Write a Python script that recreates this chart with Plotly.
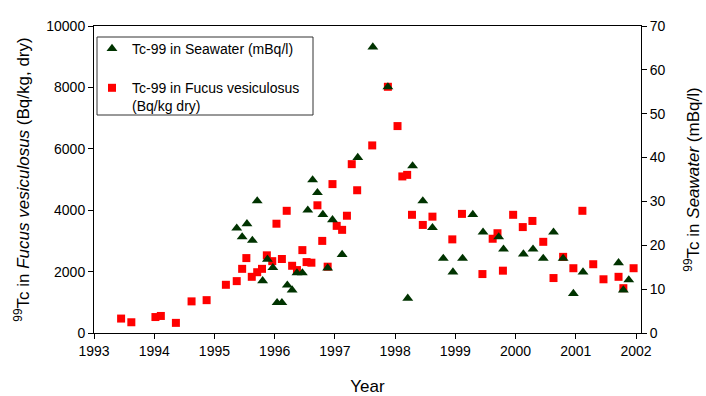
import plotly.graph_objects as go

# Tc-99 in Fucus vesiculosus (Bq/kg dry) - left axis
fucus_year = [1993.45, 1993.62, 1994.02, 1994.11, 1994.36, 1994.62, 1994.87, 1995.19,
              1995.37, 1995.46, 1995.53, 1995.62, 1995.71, 1995.79, 1995.87, 1995.96,
              1996.03, 1996.12, 1996.20, 1996.29, 1996.37, 1996.46, 1996.53, 1996.61,
              1996.71, 1996.79, 1996.88, 1996.96, 1997.03, 1997.12, 1997.20, 1997.28,
              1997.37, 1997.62, 1997.88, 1998.04, 1998.12, 1998.20, 1998.28, 1998.46,
              1998.62, 1998.95, 1999.11, 1999.45, 1999.62, 1999.70, 1999.79, 1999.96,
              2000.12, 2000.28, 2000.46, 2000.63, 2000.79, 2000.96, 2001.11, 2001.29,
              2001.46, 2001.71, 2001.79, 2001.96]
fucus_value = [470, 350, 520, 555, 330, 1030, 1070, 1570,
               1690, 2090, 2440, 1830, 1980, 2090, 2530, 2340,
               3560, 2410, 3980, 2190, 2050, 2700, 2310, 2290,
               4160, 3000, 2160, 4850, 3490, 3360, 3820, 5500,
               4650, 6110, 8020, 6740, 5100, 5150, 3850, 3520,
               3790, 3050, 3880, 1920, 3070, 3250, 2030, 3850,
               3450, 3650, 2970, 1790, 2480, 2110, 3980, 2240,
               1750, 1830, 1460, 2110]

# Tc-99 in Seawater (mBq/l) - right axis
sea_year = [1995.37, 1995.46, 1995.54, 1995.63, 1995.71, 1995.80, 1995.88, 1995.97,
            1996.04, 1996.12, 1996.21, 1996.29, 1996.37, 1996.46, 1996.55, 1996.63,
            1996.71, 1996.80, 1996.88, 1996.96, 1997.12, 1997.38, 1997.63, 1997.88,
            1998.21, 1998.29, 1998.46, 1998.62, 1998.80, 1998.96, 1999.12, 1999.29,
            1999.46, 1999.72, 1999.80, 2000.13, 2000.29, 2000.46, 2000.63, 2000.79,
            2000.96, 2001.12, 2001.71, 2001.79, 2001.88]
sea_value = [23.9, 21.9, 24.9, 21.1, 30.1, 11.9, 16.8, 14.9,
             6.9, 6.9, 10.9, 9.8, 13.7, 13.7, 28.0, 34.9,
             32.0, 27.0, 14.8, 25.8, 17.9, 40.0, 65.2, 56.1,
             7.9, 38.1, 30.1, 24.0, 17.0, 13.9, 17.0, 27.0,
             23.0, 21.9, 19.1, 18.0, 19.1, 17.0, 23.0, 17.0,
             9.0, 13.9, 16.0, 9.8, 12.1]

year_ticks = list(range(1993, 2003))
left_ticks = [0, 2000, 4000, 6000, 8000, 10000]
left_ticktext = ["0", "2000", "4000", "6000", "8000", "10000"]
right_ticks = [0, 10, 20, 30, 40, 50, 60, 70]

FONT = "Liberation Sans, Arial, sans-serif"

fig = go.Figure()
fig.add_trace(go.Scatter(
    x=sea_year, y=sea_value, mode="markers", yaxis="y2",
    name="Tc-99 in Seawater (mBq/l)", legendgroup="sea",
    marker=dict(symbol="triangle-up", size=9.5, color="#003300", line=dict(width=0)),
))
fig.add_trace(go.Scatter(
    x=fucus_year, y=fucus_value, mode="markers", yaxis="y",
    name="Tc-99 in Fucus vesiculosus<br>(Bq/kg dry)", legendgroup="fucus",
    marker=dict(symbol="square", size=8, color="#FF0000", line=dict(width=0)),
))

# plot-area geometry (px) used to place the legend frame
L, R, T, B = 94, 65, 26, 63
PW, PH = 706 - L - R, 396 - T - B


def px_x(px):
    return (px - L) / PW


def px_y(py):
    return (396 - B - py) / PH


xr = [1993, 2002.083]
common = dict(showgrid=False, zeroline=False, showline=True, linecolor="black",
              linewidth=1, tickcolor="black", ticklen=5, tickwidth=1, automargin=False)
inner = dict(showticklabels=False, showgrid=False, zeroline=False, showline=False,
             tickcolor="black", ticklen=5, ticks="inside", automargin=False)

fig.update_layout(
    width=706, height=396,
    margin=dict(l=L, r=R, t=T, b=B),
    paper_bgcolor="white", plot_bgcolor="white",
    font=dict(family=FONT, size=14, color="black"),
    showlegend=True,
    legend=dict(x=px_x(92), y=px_y(33), xanchor="left", yanchor="top",
                borderwidth=0, bgcolor="rgba(0,0,0,0)",
                font=dict(size=14), itemwidth=30, tracegroupgap=18,
                traceorder="grouped", valign="top"),
    shapes=[dict(type="rect", xref="paper", yref="paper",
                 x0=px_x(97), x1=px_x(313), y0=px_y(115), y1=px_y(37),
                 line=dict(color="#333333", width=1), fillcolor="rgba(0,0,0,0)",
                 layer="below")],
    xaxis=dict(range=xr, tickvals=year_ticks, ticks="outside", mirror=True,
               title=dict(text="Year", font=dict(size=17), standoff=25), **common),
    xaxis2=dict(range=xr, tickvals=year_ticks, overlaying="x", anchor="y", **inner),
    yaxis=dict(range=[0, 10000], tickvals=left_ticks, ticktext=left_ticktext,
               ticks="outside",
               title=dict(text="<sup>99</sup>Tc in <i>Fucus vesiculosus</i> (Bq/kg, dry)",
                          font=dict(size=17), standoff=12), **common),
    yaxis2=dict(range=[0, 70], tickvals=right_ticks, ticks="outside", side="right",
                overlaying="y", anchor="x",
                title=dict(text="<sup>99</sup>Tc in <i>Seawater</i> (mBq/l)",
                           font=dict(size=17), standoff=22), **common),
    yaxis3=dict(range=[0, 10000], tickvals=left_ticks, side="left",
                overlaying="y", anchor="x", **inner),
    yaxis4=dict(range=[0, 70], tickvals=right_ticks, side="right",
                overlaying="y", anchor="x", **inner),
)

fig.write_html("out.html")
